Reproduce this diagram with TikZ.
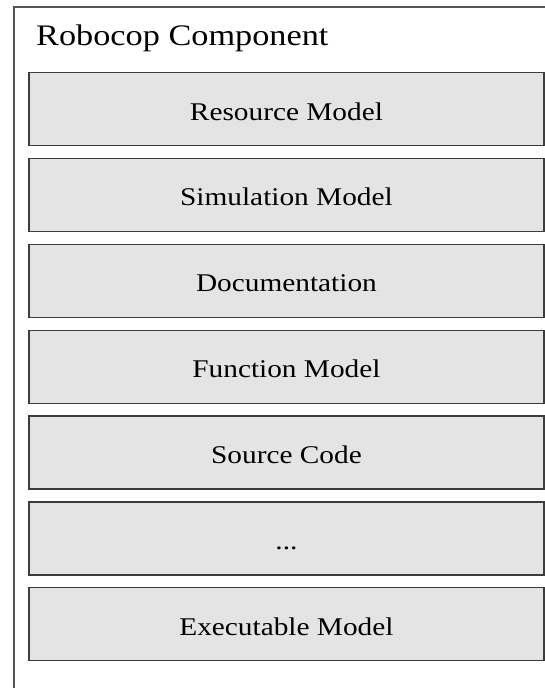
\documentclass[tikz,border=0pt]{standalone}
\usepackage{fontspec}
\usepackage{graphicx}
\setmainfont{Liberation Serif}
\definecolor{partfill}{HTML}{E4E4E4}
\definecolor{partline}{HTML}{3C3C3C}
\definecolor{frameline}{HTML}{555555}
\newcommand{\widetext}[1]{\scalebox{1.15}[1]{#1}}
\tikzset{
  part/.style={draw=partline, fill=partfill, line width=1.3pt,
    minimum width=515pt, minimum height=73pt, inner sep=0pt,
    text height=22pt, text depth=0pt, anchor=north west,
    font=\fontsize{25.5}{26}\selectfont},
  frame/.style={draw=frameline, line width=1.4pt},
}
\begin{document}
\begin{tikzpicture}[x=1pt,y=-1pt]
  \useasboundingbox (0,0) rectangle (544,688);
  % outer component frame (continues past the page on the right and bottom)
  \coordinate (fnw) at (14,7);
  \coordinate (fne) at (546,7);
  \coordinate (fsw) at (14,690);
  \draw[frame] (fne) -- (fnw) -- (fsw);
  \node[anchor=base west, inner sep=0pt, font=\fontsize{29.8}{30}\selectfont]
    (title) at (36,45.5) {\widetext{Robocop Component}};
  % the parts of the component, stacked top to bottom
  \node[part] (res)  at (28.3, 72.0)  {\widetext{Resource Model}};
  \node[part] (sim)  at (28.3, 157.8) {\widetext{Simulation Model}};
  \node[part] (doc)  at (28.3, 243.7) {\widetext{Documentation}};
  \node[part] (fun)  at (28.3, 329.5) {\widetext{Function Model}};
  \node[part] (src)  at (28.3, 415.3) {\widetext{Source Code}};
  \node[part] (more) at (28.3, 501.2) {\widetext{...}};
  \node[part] (exe)  at (28.3, 587.0) {\widetext{Executable Model}};
\end{tikzpicture}
\end{document}
